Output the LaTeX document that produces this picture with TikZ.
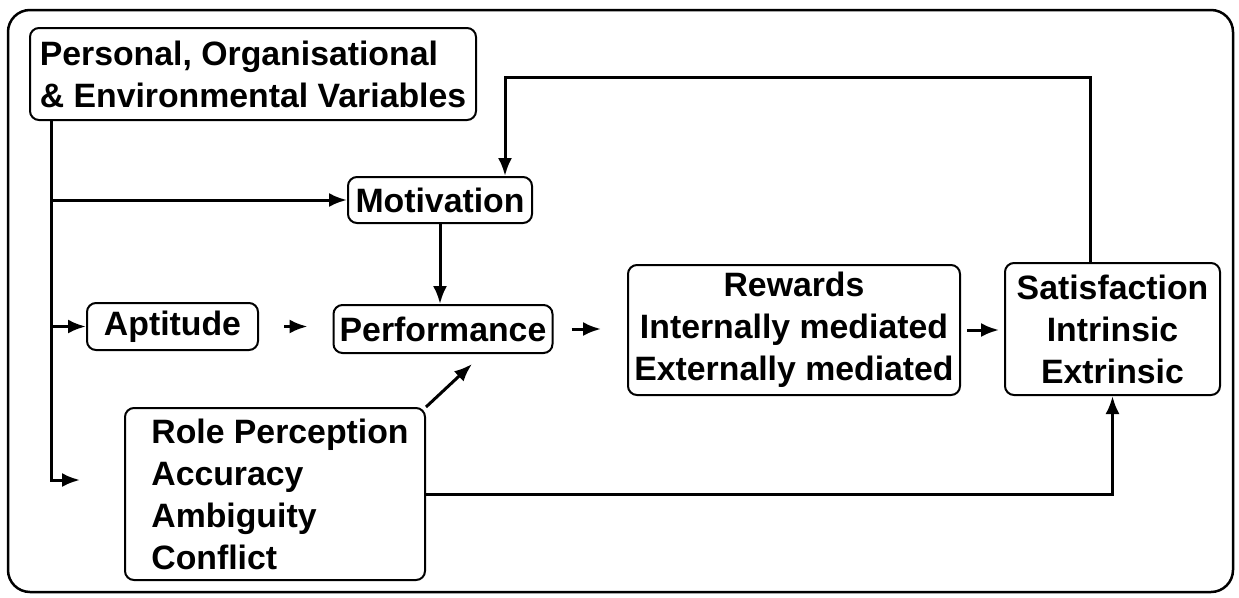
\documentclass[tikz,border=0pt]{standalone}
\usepackage{fontspec}
\setmainfont{Liberation Sans}
\usetikzlibrary{arrows.meta}

\begin{document}
\begin{tikzpicture}
  [x=1pt,y=-1pt,
   every node/.style={draw,rounded corners=9pt,line width=2pt,inner sep=0pt,
     font=\fontsize{33.8}{42}\selectfont\bfseries},
   conn/.style={line width=3pt,-{Latex[length=18pt,width=14pt]}}]
  \useasboundingbox (0,0) rectangle (1239,597);
  \draw[line width=2.5pt,rounded corners=22pt] (8,10) rectangle (1233,592);
  \node[align=left,minimum width=446pt,minimum height=92pt] (poe) at (253,74)
    {Personal, Organisational\\\& Environmental Variables};
  \node[minimum width=184pt,minimum height=46pt] (mot) at (440,200) {Motivation};
  \node[minimum width=171pt,minimum height=47pt] (apt) at (172.5,326.5) {Aptitude};
  \node[minimum width=219pt,minimum height=48pt] (perf) at (443,329) {Performance};
  \node[align=center,minimum width=332pt,minimum height=130pt] (rew) at (794,330)
    {Rewards\\Internally mediated\\Externally mediated};
  \node[align=center,minimum width=215pt,minimum height=132pt] (sat) at (1112.5,329)
    {Satisfaction\\Intrinsic\\Extrinsic};
  \node[align=left,minimum width=300pt,minimum height=172pt] (role) at (275,494)
    {\hspace*{10pt}Role Perception\\\hspace*{10pt}Accuracy\\\hspace*{10pt}Ambiguity\\\hspace*{10pt}Conflict};
  \coordinate (tr) at ([xshift=22pt]poe.south west);
  \coordinate (rin) at (80,480);
  \coordinate (fb) at (505,77);
  \draw[conn] (tr) |- (mot.west);
  \draw[conn] (tr) |- (apt.west);
  \draw[conn] (tr) |- (rin);
  \draw[conn] (mot.south) -- (mot.south |- perf.north);
  \foreach \from/\to/\s/\e in {apt/perf/25/25,perf/rew/18/26,rew/sat/6/5}
    \draw[conn,shorten <=\s pt,shorten >=\e pt] (\from.east) -- (\from.east -| \to.west);
  \draw[conn] ([xshift=-22pt]sat.north) |- (fb) -- (fb |- mot.north);
  \draw[conn] (role.north east) -- ([xshift=29pt,yshift=-10pt]perf.south);
  \draw[conn] (role.east) -| (sat.south);
\end{tikzpicture}
\end{document}
